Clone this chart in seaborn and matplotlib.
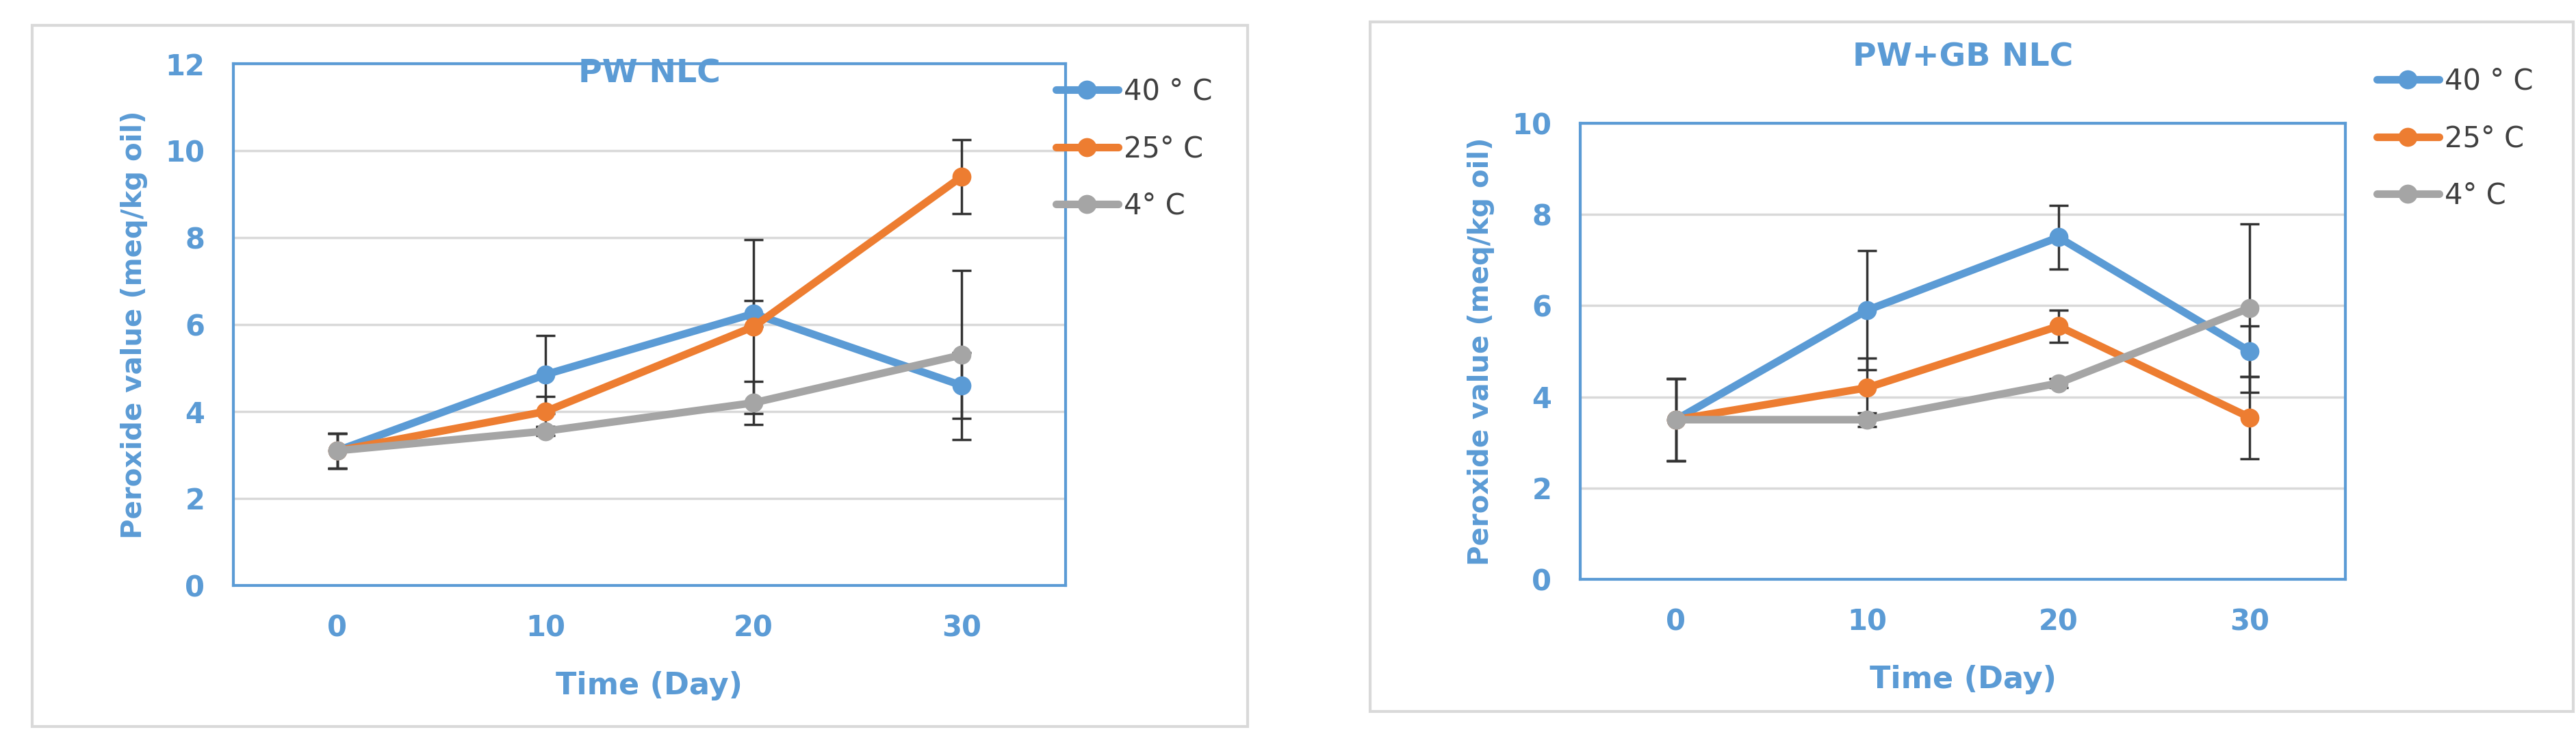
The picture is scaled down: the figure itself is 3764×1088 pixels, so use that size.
import matplotlib
matplotlib.use("Agg")
import matplotlib.pyplot as plt
import seaborn as sns
import pandas as pd
from matplotlib.patches import Rectangle

sns.set_style("white")
plt.rcParams['font.family'] = ['Liberation Sans Narrow', 'DejaVu Sans']

days = [0, 10, 20, 30]
series = ["40 ° C", "25° C", "4° C"]
colors = ["#5B9BD5", "#ED7D31", "#A5A5A5"]

pw_vals = {"40 ° C": [3.1, 4.85, 6.25, 4.6], "25° C": [3.1, 4.0, 5.95, 9.4], "4° C": [3.1, 3.55, 4.2, 5.3]}
pw_err = {"40 ° C": [0.4, 0.9, 0.3, 0.75], "25° C": [0.4, 0.35, 2.0, 0.85], "4° C": [0.4, 0.1, 0.5, 1.95]}
gb_vals = {"40 ° C": [3.5, 5.9, 7.5, 5.0], "25° C": [3.5, 4.2, 5.55, 3.55], "4° C": [3.5, 3.5, 4.3, 5.95]}
gb_err = {"40 ° C": [0.9, 1.3, 0.7, 0.55], "25° C": [0.9, 0.65, 0.35, 0.9], "4° C": [0.9, 0.15, 0.1, 1.85]}

W, H = 3764, 1088
fig = plt.figure(figsize=(W/100, H/100), dpi=100)
blue = "#5B9BD5"

def px(x0, y0, x1, y1):
    return [x0/W, 1-y1/H, (x1-x0)/W, (y1-y0)/H]

fig.patches.append(Rectangle((47/W, 1-1061/H), (1823-47)/W, (1061-37)/H, transform=fig.transFigure,
                             fill=False, edgecolor="#D9D9D9", lw=3))
fig.patches.append(Rectangle((2002/W, 1-1039/H), (3760-2002)/W, (1039-32)/H, transform=fig.transFigure,
                             fill=False, edgecolor="#D9D9D9", lw=3))

def panel(rect, vals, errs, title, ymax, title_y, leg_xy):
    ax = fig.add_axes(rect)
    rows = []
    for s in series:
        for d, v in zip(days, vals[s]):
            rows.append({"Day": d, "PV": v, "T": s})
    df = pd.DataFrame(rows)
    for s, c in zip(series, colors):
        ax.errorbar(days, vals[s], yerr=errs[s], fmt="none", ecolor="#333333", elinewidth=2.5, capsize=10, capthick=2.5, zorder=2)
    sns.lineplot(data=df, x="Day", y="PV", hue="T", hue_order=series, palette=colors, marker="o",
                 markersize=20, linewidth=8, markeredgewidth=0, ax=ax, zorder=3)
    ax.set_xlim(-5, 35)
    ax.set_ylim(0, ymax)
    ax.set_xticks(days)
    ax.set_yticks(range(0, ymax+1, 2))
    ax.grid(axis="y", color="#D9D9D9", lw=2.5)
    for sp in ax.spines.values():
        sp.set_color(blue); sp.set_linewidth(3)
    ax.tick_params(axis="both", colors=blue, labelsize=30, length=0, pad=30)
    for t in ax.get_xticklabels() + ax.get_yticklabels():
        t.set_fontweight("bold")
    ax.set_xlabel("Time (Day)", color=blue, fontsize=32, fontweight="bold", labelpad=30)
    ax.set_ylabel("Peroxide value (meq/kg oil)", color=blue, fontsize=29, fontweight="bold",
                  family=["DejaVu Sans"], labelpad=18)
    fig.text(rect[0]+rect[2]/2, 1-title_y/H, title, color=blue, fontsize=34, fontweight="bold",
             ha="center", va="center")
    ax.legend(loc="upper left", bbox_to_anchor=leg_xy, bbox_transform=fig.transFigure, frameon=False,
              fontsize=30, handlelength=2.2, labelspacing=1.0, handletextpad=0.2, labelcolor="#404040")
    return ax

panel(px(341, 93, 1557, 855), pw_vals, pw_err, "PW NLC", 12, 108, (1505/W, 1-75/H))
panel(px(2309, 180, 3427, 846), gb_vals, gb_err, "PW+GB NLC", 10, 84, (3435/W, 1-60/H))

fig.savefig("out.png", dpi=100)
